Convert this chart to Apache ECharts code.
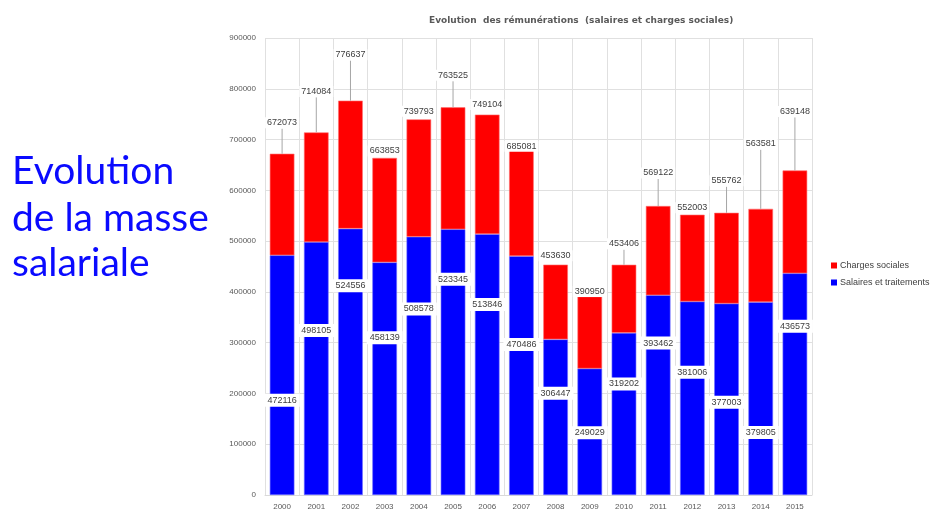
<!DOCTYPE html>
<html>
<head>
<meta charset="utf-8">
<script src="https://cdn.jsdelivr.net/npm/echarts@6/dist/echarts.min.js"></script>
<style>
  html, body { margin: 0; padding: 0; background: #ffffff; }
  #chart { width: 931px; height: 510px; }
</style>
</head>
<body>
<div id="chart"></div>
<script>
// Years on the category axis
const years = ['2000', '2001', '2002', '2003', '2004', '2005', '2006', '2007',
               '2008', '2009', '2010', '2011', '2012', '2013', '2014', '2015'];

// Salaires et traitements (bottom of each stack)
const salaires = [472116, 498105, 524556, 458139, 508578, 523345, 513846, 470486,
                  306447, 249029, 319202, 393462, 381006, 377003, 379805, 436573];

// Total rémunérations (salaires + charges sociales)
const totaux = [672073, 714084, 776637, 663853, 739793, 763525, 749104, 685081,
                453630, 390950, 453406, 569122, 552003, 555762, 563581, 639148];

// Value axis ticks
const yMin = 0;
const yMax = 900000;
const yStep = 100000;

// Charges sociales = total - salaires
const charges = totaux.map((t, i) => t - salaires[i]);

// Label placement, in pixels
const totalLabelLift = [-31, -41, -46, -7, -8, -32, -10, -1, -9, -5, -21, -33, -7, -32, -65, -59];
const salaireLabelShift = [25, -38, -76, -41, -57, -83, -60, -31, -24, 1, -30, -52, -26, 3, 34, -58];

const labelFont = '9px "Liberation Sans", "DejaVu Sans", sans-serif';
const labelColor = '#404040';

const chart = echarts.init(document.getElementById('chart'), null, { renderer: 'canvas' });

chart.setOption({
  animation: false,
  backgroundColor: '#ffffff',
  title: {
    text: 'Evolution  des rémunérations  (salaires et charges sociales)',
    left: 424,
    top: 11,
    textStyle: {
      fontFamily: '"DejaVu Sans", sans-serif',
      fontSize: 9,
      fontWeight: 'bold',
      color: '#595959'
    }
  },
  legend: {
    orient: 'vertical',
    left: 826,
    top: 256,
    itemWidth: 6,
    itemHeight: 6,
    itemGap: 8,
    icon: 'rect',
    itemStyle: { borderWidth: 0 },
    data: ['Charges sociales', 'Salaires et traitements'],
    textStyle: { fontSize: 9, color: '#404040', fontFamily: '"Liberation Sans", sans-serif', padding: [0, 0, 0, -2] }
  },
  graphic: [
    { type: 'text', left: 12, top: 152, style: { text: 'Evolution', font: '39px Lato, sans-serif', fill: '#0a0aff' } },
    { type: 'text', left: 12, top: 199, style: { text: 'de la masse', font: '39px Lato, sans-serif', fill: '#0a0aff' } },
    { type: 'text', left: 12, top: 244, style: { text: 'salariale', font: '39px Lato, sans-serif', fill: '#0a0aff' } }
  ],
  grid: { left: 265, right: 119, top: 38, bottom: 15, containLabel: false, outerBoundsMode: 'none' },
  xAxis: {
    type: 'category',
    data: years,
    axisLine: { show: true, lineStyle: { color: '#d9d9d9' } },
    axisTick: { show: false },
    splitLine: { show: true, lineStyle: { color: '#e0e0e0', width: 1 } },
    axisLabel: { fontSize: 8, color: '#595959', margin: 8, fontFamily: '"Liberation Sans", sans-serif' }
  },
  yAxis: {
    type: 'value',
    min: yMin,
    max: yMax,
    interval: yStep,
    axisLine: { show: false },
    axisTick: { show: false },
    splitLine: { lineStyle: { color: '#e0e0e0', width: 1 } },
    axisLabel: {
      fontSize: 8,
      color: '#595959',
      margin: 9,
      fontFamily: '"Liberation Sans", sans-serif',
      formatter: (v) => String(v)
    }
  },
  series: [
    {
      name: 'Salaires et traitements',
      type: 'bar',
      stack: 'remu',
      barWidth: '72%',
      itemStyle: { color: '#0000ff', borderColor: '#6f6fff', borderWidth: 0.6 },
      data: salaires
    },
    {
      name: 'Charges sociales',
      type: 'bar',
      stack: 'remu',
      barWidth: '72%',
      itemStyle: { color: '#ff0000', borderColor: '#ff7070', borderWidth: 0.6 },
      data: charges
    },
    {
      // salary values written inside the blue bars
      name: 'salaireLabels',
      type: 'custom',
      z: 10,
      silent: true,
      data: salaires.map((v, i) => [i, v, salaireLabelShift[i]]),
      encode: { x: 0, y: 1 },
      renderItem: function (params, api) {
        const i = api.value(0);
        const v = api.value(1);
        const mid = api.coord([i, v / 2]);
        return {
          type: 'text',
          x: mid[0],
          y: mid[1] + api.value(2),
          style: {
            text: String(v),
            font: labelFont,
            fill: labelColor,
            align: 'center',
            verticalAlign: 'middle',
            backgroundColor: '#ffffff',
            padding: [2, 3]
          }
        };
      }
    },
    {
      // totals above each stack, with leader lines
      name: 'totalLabels',
      type: 'custom',
      z: 10,
      silent: true,
      data: totaux.map((v, i) => [i, v, totalLabelLift[i]]),
      encode: { x: 0, y: 1 },
      renderItem: function (params, api) {
        const i = api.value(0);
        const v = api.value(1);
        const top = api.coord([i, v]);
        const ly = top[1] + api.value(2);
        const children = [];
        if (ly < top[1] - 10) {
          children.push({
            type: 'line',
            shape: { x1: top[0], y1: top[1], x2: top[0], y2: ly + 6 },
            style: { stroke: '#a6a6a6', lineWidth: 1 }
          });
        }
        children.push({
          type: 'text',
          x: top[0],
          y: ly,
          style: {
            text: String(v),
            font: labelFont,
            fill: labelColor,
            align: 'center',
            verticalAlign: 'middle',
            backgroundColor: '#ffffff',
            padding: [1, 2]
          }
        });
        return { type: 'group', children: children };
      }
    }
  ]
});
</script>
</body>
</html>
